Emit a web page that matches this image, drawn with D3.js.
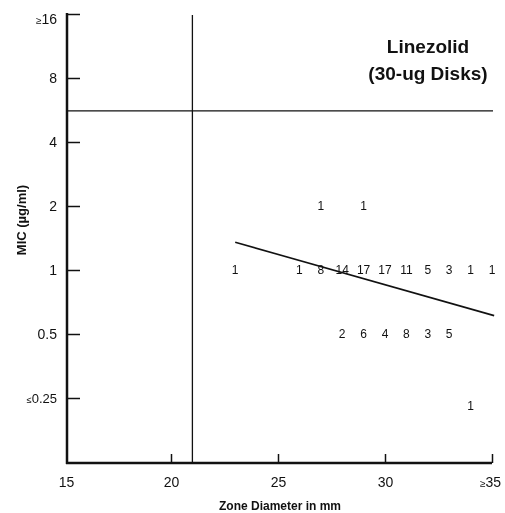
<!DOCTYPE html>
<html><head><meta charset="utf-8">
<script src="https://cdn.jsdelivr.net/npm/d3@7"></script>
<style>body{margin:0;background:#fff;} svg{display:block;will-change:transform;} text{font-family:"Liberation Sans",Arial,sans-serif;fill:#111;}</style>
</head><body>
<svg id="c" width="505" height="513"></svg>
<script>
// Data
const xTicks = [15, 20, 25, 30, 35];
const xTickLabels = ["15", "20", "25", "30", "\u226535"];
const yTicks = [16, 8, 4, 2, 1, 0.5, 0.25];
const yTickLabels = ["\u226516", "8", "4", "2", "1", "0.5", "\u22640.25"];
const zones   = [23, 26, 27, 28, 29, 30, 31, 32, 33, 34, 35, 27, 29, 28, 29, 30, 31, 32, 33, 34];
const mics    = [1, 1, 1, 1, 1, 1, 1, 1, 1, 1, 1, 2, 2, 0.5, 0.5, 0.5, 0.5, 0.5, 0.5, 0.23];
const counts  = [1, 1, 8, 14, 17, 17, 11, 5, 3, 1, 1, 1, 1, 2, 6, 4, 8, 3, 5, 1];
const zoneBreakpoint = [21];
const micBreakpoint = [5.6];
const regressionZones = [23, 35.1];
const regressionMics = [1.35, 0.61];
const titleLines = ["Linezolid", "(30-ug Disks)"];

const svg = d3.select("#c");
const x = d3.scaleLinear().domain([15, 35]).range([64, 492]);
const y = d3.scaleLog().base(2).domain([0.125, 16]).range([462, 14]);
const FONT = "Liberation Sans, Arial, sans-serif";

// split a label so that a leading ≥ / ≤ sign is drawn smaller
function styleLabel(sel, size) {
  sel.each(function() {
    const t = d3.select(this);
    const s = t.text();
    if (s[0] === "\u2265" || s[0] === "\u2264") {
      t.text(null);
      t.append("tspan").attr("font-size", size - 4).text(s[0]);
      t.append("tspan").text(s.slice(1));
    }
  });
}

// Y axis
const yAxis = d3.axisLeft(y).tickValues(yTicks).tickSize(-13).tickPadding(10)
  .tickFormat((d, i) => yTickLabels[i]);
const gy = svg.append("g").attr("transform", "translate(67,0)").call(yAxis);
gy.select(".domain").remove();
gy.selectAll(".tick line").attr("stroke", "#111").attr("stroke-width", 1.5);
gy.selectAll(".tick text").attr("font-size", 14).attr("fill", "#111").attr("font-family", FONT);
gy.selectAll(".tick text").filter(d => d === 0.25).attr("font-size", 13);
gy.selectAll(".tick text").filter(d => d === 16).attr("dy", "0.65em");
styleLabel(gy.selectAll(".tick text").filter(d => d === 16), 14);
styleLabel(gy.selectAll(".tick text").filter(d => d === 0.25), 13);

// X axis
const xAxis = d3.axisBottom(x).tickValues(xTicks).tickSize(-9).tickPadding(14)
  .tickFormat((d, i) => xTickLabels[i]);
const gx = svg.append("g").attr("transform", "translate(0,463)").call(xAxis);
gx.select(".domain").remove();
gx.selectAll(".tick line").attr("stroke", "#111").attr("stroke-width", 1.5);
gx.selectAll(".tick").filter(d => d === 15).select("line").remove();
gx.selectAll(".tick text").attr("font-size", 14).attr("fill", "#111").attr("font-family", FONT);
gx.selectAll(".tick text").filter(d => d === 15).attr("dx", 2);
gx.selectAll(".tick text").filter(d => d === 35).attr("dx", -2);
styleLabel(gx.selectAll(".tick text").filter(d => d === 35), 14);

// axis lines
svg.append("line").attr("x1", 67).attr("x2", 67).attr("y1", 13).attr("y2", 464)
  .attr("stroke", "#111").attr("stroke-width", 2.5);
svg.append("line").attr("x1", 66).attr("x2", x(35)).attr("y1", 463).attr("y2", 463)
  .attr("stroke", "#111").attr("stroke-width", 2.5);

// breakpoint lines
svg.selectAll(".vb").data(zoneBreakpoint).enter().append("line")
  .attr("x1", d => x(d)).attr("x2", d => x(d)).attr("y1", 15).attr("y2", 463)
  .attr("stroke", "#111").attr("stroke-width", 1.3);
svg.selectAll(".hb").data(micBreakpoint).enter().append("line")
  .attr("x1", 67).attr("x2", 493).attr("y1", d => y(d)).attr("y2", d => y(d))
  .attr("stroke", "#111").attr("stroke-width", 1.3);

// regression line
svg.append("line")
  .attr("x1", x(regressionZones[0])).attr("y1", y(regressionMics[0]))
  .attr("x2", x(regressionZones[1])).attr("y2", y(regressionMics[1]))
  .attr("stroke", "#111").attr("stroke-width", 1.6);

// counts
svg.selectAll(".cnt").data(counts).enter().append("text")
  .attr("x", (d, i) => x(zones[i]))
  .attr("y", (d, i) => y(mics[i]))
  .attr("text-anchor", "middle").attr("dominant-baseline", "central")
  .attr("font-size", 12).attr("fill", "#111").text(d => d);

// title
svg.selectAll(".ttl").data(titleLines).enter().append("text")
  .attr("x", 428).attr("y", (d, i) => 53 + i * 27)
  .attr("text-anchor", "middle").attr("font-size", 19).attr("font-weight", "bold")
  .text(d => d);

// axis titles
svg.append("text").attr("transform", "translate(26,220) rotate(-90)")
  .attr("text-anchor", "middle").attr("font-size", 13).attr("font-weight", "bold")
  .text("MIC (\u00b5g/ml)");
svg.append("text").attr("x", 280).attr("y", 510)
  .attr("text-anchor", "middle").attr("font-size", 12).attr("font-weight", "bold")
  .text("Zone Diameter in mm");
</script>
</body></html>
